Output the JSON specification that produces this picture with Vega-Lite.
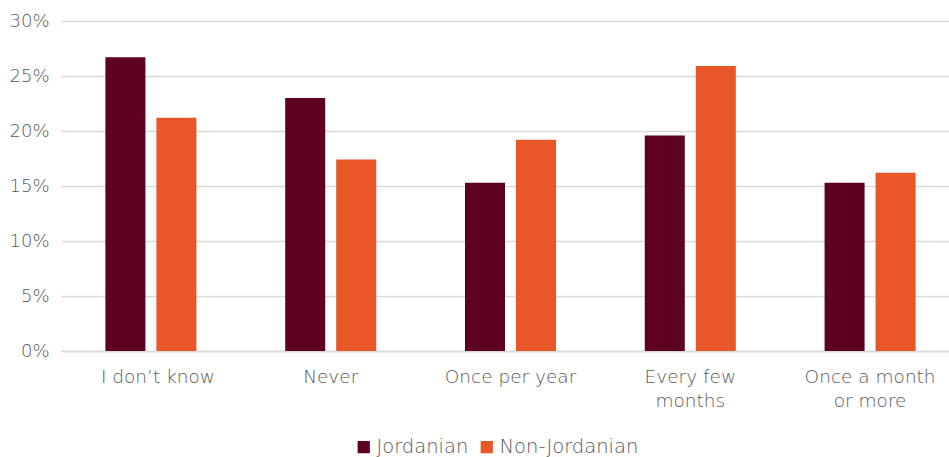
{
  "$schema": "https://vega.github.io/schema/vega-lite/v6.json",
  "width": 899,
  "height": 330,
  "autosize": {"type": "none"},
  "padding": {"left": 61, "top": 21, "right": 0, "bottom": 106},
  "background": "white",
  "data": {"values": [
    {"freq": "I don't know", "group": "Jordanian", "value": 0.267},
    {"freq": "I don't know", "group": "Non-Jordanian", "value": 0.212},
    {"freq": "Never", "group": "Jordanian", "value": 0.230},
    {"freq": "Never", "group": "Non-Jordanian", "value": 0.174},
    {"freq": "Once per year", "group": "Jordanian", "value": 0.153},
    {"freq": "Once per year", "group": "Non-Jordanian", "value": 0.192},
    {"freq": "Every few months", "group": "Jordanian", "value": 0.196},
    {"freq": "Every few months", "group": "Non-Jordanian", "value": 0.259},
    {"freq": "Once a month or more", "group": "Jordanian", "value": 0.153},
    {"freq": "Once a month or more", "group": "Non-Jordanian", "value": 0.162}
  ]},
  "mark": {"type": "bar"},
  "encoding": {
    "x": {
      "field": "freq", "type": "nominal", "sort": null,
      "scale": {"paddingInner": 0.4937, "paddingOuter": 0.2469},
      "axis": {
        "title": null, "labelAngle": 0, "ticks": false,
        "domainColor": "#d9d9d9", "domainWidth": 1.5,
        "labelFont": "DejaVu Sans", "labelFontSize": 18.5, "labelFontWeight": 200, "labelColor": "#595959",
        "labelPadding": 25, "labelLineHeight": 24, "labelBaseline": "middle",
        "labelOffset": {"condition": {"test": "datum.value == \"I don't know\"", "value": 7}, "value": 0},
        "labelExpr": "datum.label == 'Every few months' ? ['Every few', 'months'] : datum.label == 'Once a month or more' ? ['Once a month', 'or more'] : datum.label == \"I don't know\" ? 'I don’t know' : datum.label"
      }
    },
    "xOffset": {
      "field": "group", "type": "nominal",
      "scale": {"paddingInner": 0.2157, "paddingOuter": 0}
    },
    "y": {
      "field": "value", "type": "quantitative",
      "scale": {"domain": [0, 0.3]},
      "axis": {
        "title": null, "format": ".0%", "values": [0, 0.05, 0.1, 0.15, 0.2, 0.25, 0.3],
        "domain": false, "ticks": false,
        "gridColor": "#d9d9d9", "gridWidth": 1.5,
        "labelFont": "DejaVu Sans", "labelFontSize": 18, "labelFontWeight": 200, "labelColor": "#595959",
        "labelPadding": 12
      }
    },
    "color": {
      "field": "group", "type": "nominal",
      "scale": {"domain": ["Jordanian", "Non-Jordanian"], "range": ["#5e0022", "#e85728"]},
      "legend": {
        "title": null, "orient": "none", "direction": "horizontal",
        "legendX": 293, "legendY": 416,
        "symbolType": "square", "symbolSize": 150, "symbolStrokeWidth": 0,
        "labelFont": "DejaVu Sans", "labelFontSize": 19.5, "labelFontWeight": 200, "labelColor": "#595959",
        "labelOffset": 3, "columnPadding": 8
      }
    }
  },
  "config": {"view": {"stroke": null}}
}
